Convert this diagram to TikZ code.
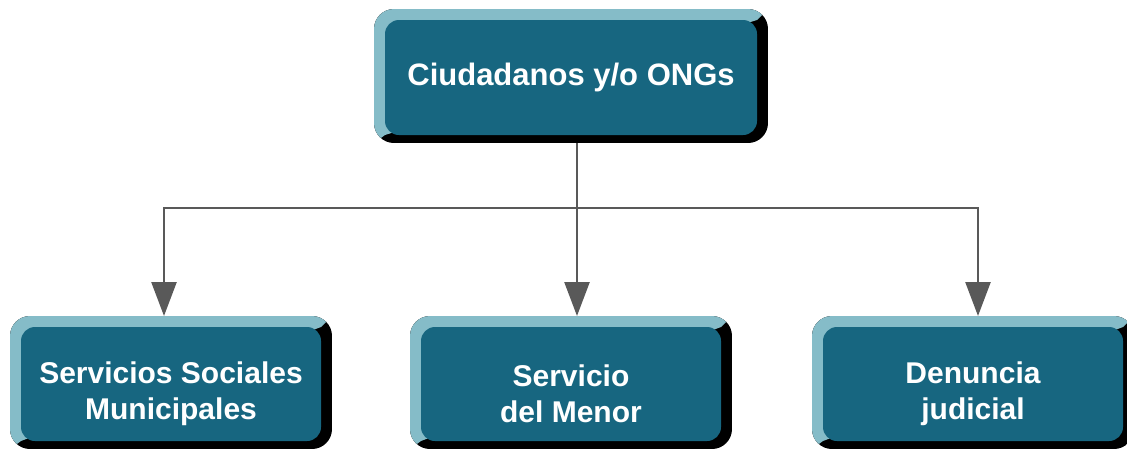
\documentclass[tikz,border=0pt]{standalone}
\usepackage{fontspec}
\setmainfont{Liberation Sans}
\usetikzlibrary{positioning,arrows.meta,backgrounds}

\definecolor{facecol}{RGB}{23,102,128}
\definecolor{bevlight}{RGB}{133,188,200}
\definecolor{linkcol}{RGB}{89,89,89}
\newcommand{\lowstrut}{\rule{0pt}{41pt}}

\begin{document}
\begin{tikzpicture}[x=1pt,y=1pt,node distance=192pt and 100pt,
    box/.style={fill=facecol,rounded corners=14pt,outer sep=0pt,text=white,align=center,
      minimum width=300pt,minimum height=114pt,font=\bfseries\fontsize{30}{36}\selectfont},
    link/.style={draw=linkcol,line width=2.5pt,-{Triangle[width=25pt,length=34pt]}}] %
    \useasboundingbox (0,0) rectangle (1127,-450);
    \node[box,minimum width=372pt,minimum height=115pt,font=\bfseries\fontsize{31}{36}\selectfont] (ciudadanos) at (571,-77.5) {Ciudadanos y/o ONGs} ; %
    \node[box, below=of ciudadanos] (menor) {\lowstrut Servicio\\del Menor} ; %
    \node[box, left=of menor] (sociales) {\lowstrut Servicios Sociales\\Municipales} ; %
    \node[box, right=of menor,xshift=2pt] (denuncia) {\lowstrut Denuncia\\judicial} ; %
    % bevelled frames
    \begin{scope}[on background layer]
      \foreach \n in {ciudadanos,menor,sociales,denuncia} {
        \begin{scope}
          \clip[rounded corners=20pt] ([shift={(-11,11)}]\n.north west) rectangle ([shift={(11,-8)}]\n.south east);
          \fill[black] ([shift={(-11,11)}]\n.north west) rectangle ([shift={(11,-8)}]\n.south east);
          \fill[bevlight] ([shift={(-11,11)}]\n.north west) -- ([shift={(11,11)}]\n.north east)
            -- (\n.north east) -- (\n.south west) -- ([shift={(-11,-8)}]\n.south west) -- cycle;
        \end{scope}
      }
    \end{scope}
    \draw[link] ([shift={(6,-8)}]ciudadanos.south) -- ([shift={(6,11)}]menor.north);
    \draw[link] ([shift={(6,-8)}]ciudadanos.south) -- ++(0,-65) -| ([shift={(-7,11)}]sociales.north);
    \draw[link] ([shift={(6,-8)}]ciudadanos.south) -- ++(0,-65) -| ([shift={(5,11)}]denuncia.north);
  \end{tikzpicture}
\end{document}
